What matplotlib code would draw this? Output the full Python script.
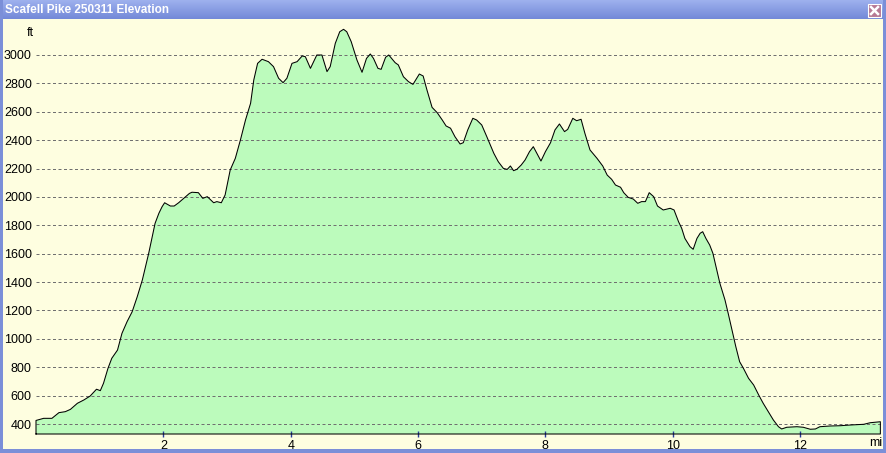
import matplotlib
matplotlib.use("Agg")
import numpy as np
import matplotlib.pyplot as plt
from matplotlib.patches import Rectangle
from matplotlib.lines import Line2D
from matplotlib.colors import LinearSegmentedColormap

title = "Scafell Pike 250311 Elevation"

dist_mi = [0.00, 0.12, 0.25, 0.36, 0.46, 0.54, 0.65, 0.75, 0.85, 0.95,
           1.01, 1.06, 1.13, 1.19, 1.28, 1.35, 1.43, 1.51, 1.59, 1.67,
           1.72, 1.77, 1.82, 1.87, 1.93, 1.98, 2.02, 2.11, 2.17, 2.24,
           2.32, 2.41, 2.45, 2.55, 2.62, 2.69, 2.79, 2.84, 2.91, 2.97,
           3.05, 3.13, 3.21, 3.29, 3.37, 3.42, 3.48, 3.55, 3.65, 3.73,
           3.81, 3.88, 3.94, 4.02, 4.10, 4.18, 4.23, 4.31, 4.41, 4.49,
           4.57, 4.62, 4.70, 4.77, 4.83, 4.88, 4.95, 5.04, 5.12, 5.19,
           5.25, 5.30, 5.37, 5.42, 5.49, 5.54, 5.64, 5.69, 5.77, 5.85,
           5.92, 5.97, 6.02, 6.08, 6.14, 6.22, 6.30, 6.38, 6.44, 6.51,
           6.58, 6.66, 6.71, 6.78, 6.86, 6.92, 7.00, 7.08, 7.19, 7.26,
           7.34, 7.40, 7.45, 7.50, 7.55, 7.62, 7.68, 7.75, 7.81, 7.88,
           7.93, 8.00, 8.08, 8.15, 8.22, 8.30, 8.35, 8.43, 8.49, 8.56,
           8.62, 8.70, 8.81, 8.90, 8.97, 9.04, 9.10, 9.18, 9.23, 9.30,
           9.38, 9.45, 9.51, 9.57, 9.63, 9.70, 9.76, 9.85, 9.96, 10.02,
           10.09, 10.14, 10.19, 10.27, 10.32, 10.38, 10.43, 10.47, 10.52, 10.58,
           10.63, 10.68, 10.74, 10.82, 10.87, 10.93, 10.99, 11.05, 11.11, 11.19,
           11.27, 11.35, 11.42, 11.50, 11.58, 11.66, 11.71, 11.79, 11.95, 12.05,
           12.16, 12.24, 12.31, 12.47, 12.63, 12.79, 13.00, 13.10, 13.26]

elev_ft = [425, 440, 440, 480, 487, 503, 546, 569, 597, 645,
           635, 687, 792, 863, 921, 1039, 1121, 1191, 1297, 1415,
           1508, 1603, 1708, 1814, 1885, 1931, 1959, 1936, 1936, 1959,
           1990, 2025, 2033, 2030, 1990, 2002, 1959, 1967, 1959, 2014,
           2190, 2272, 2401, 2542, 2660, 2824, 2941, 2970, 2953, 2918,
           2836, 2805, 2836, 2941, 2953, 2993, 2988, 2906, 3000, 3000,
           2883, 2918, 3082, 3164, 3181, 3164, 3094, 2965, 2878, 2976,
           3007, 2976, 2906, 2899, 2984, 3000, 2946, 2930, 2847, 2812,
           2793, 2829, 2866, 2852, 2753, 2631, 2594, 2542, 2500, 2484,
           2424, 2373, 2382, 2472, 2554, 2542, 2507, 2424, 2307, 2248,
           2201, 2194, 2218, 2185, 2194, 2225, 2260, 2319, 2354, 2296,
           2253, 2319, 2382, 2472, 2514, 2460, 2476, 2554, 2537, 2547,
           2448, 2331, 2272, 2218, 2154, 2124, 2084, 2068, 2030, 1997,
           1985, 1955, 1967, 1967, 2030, 2002, 1936, 1908, 1920, 1908,
           1826, 1779, 1708, 1650, 1631, 1708, 1744, 1755, 1708, 1661,
           1603, 1508, 1391, 1274, 1180, 1062, 945, 839, 792, 722,
           675, 604, 546, 487, 428, 381, 365, 377, 381, 377,
           363, 365, 381, 386, 388, 393, 398, 409, 416]

x_ticks = [2, 4, 6, 8, 10, 12]
y_ticks = [400, 600, 800, 1000, 1200, 1400, 1600, 1800, 2000,
           2200, 2400, 2600, 2800, 3000]

plt.rcParams['font.family'] = ['Liberation Sans', 'DejaVu Sans']

W, H = 886, 453
bg = "#fefee0"
frame_blue = "#7b8fd8"
y_min, y_max = 329.6, 3232.5
x_max = 13.27


def fx(px):
    return px / W


def fy(py):
    return 1 - py / H


fig = plt.figure(figsize=(W / 100, H / 100), dpi=100, facecolor=bg)

ax = fig.add_axes([fx(36), fy(434), fx(881) - fx(36), fy(22) - fy(434)])
ax.set_facecolor("none")
ax.set_xlim(0, x_max)
ax.set_ylim(y_min, y_max)

# closed profile polygon
px_poly = [dist_mi[0]] + dist_mi + [dist_mi[-1], dist_mi[0]]
py_poly = [y_min] + elev_ft + [y_min, y_min]
ax.fill(px_poly, py_poly, facecolor="#bcfbbc", edgecolor="none", zorder=1)
ax.plot(px_poly, py_poly, color="black", lw=0.75, zorder=3, clip_on=False)

for s in ax.spines.values():
    s.set_visible(False)

ax.set_xticks(x_ticks)
ax.set_xticklabels([str(t) for t in x_ticks])
ax.set_yticks(y_ticks)
ax.set_yticklabels([str(t) for t in y_ticks])
ax.tick_params(axis='x', direction='inout', length=4, width=1,
               color="#2a3a9a", pad=2, labelsize=9)
ax.tick_params(axis='y', length=0, pad=3, labelsize=9)
ax.yaxis.grid(True, color="#707070", linestyle=(0, (3, 2.5)), lw=0.72, zorder=2)
ax.xaxis.grid(False)
ax.set_axisbelow(False)

fig.text(fx(30), fy(33), "ft", ha="center", va="center", fontsize=9)
fig.text(fx(876), fy(443), "mi", ha="center", va="center", fontsize=9)

# window frame: title bar + borders
tb = fig.add_axes([0, fy(19), 1, 19 / H])
grad = np.linspace(0, 1, 50).reshape(-1, 1)
cmap = LinearSegmentedColormap.from_list("tb", ["#9eb1ee", "#7389d8"])
tb.imshow(grad, aspect="auto", cmap=cmap, extent=[0, 1, 0, 1])
tb.axis("off")
fig.text(fx(5), fy(10), title, color="white", fontweight="bold",
         fontsize=8.5, ha="left", va="center")

fig.add_artist(Rectangle((0, 0), fx(3), 1, transform=fig.transFigure,
                         facecolor=frame_blue, edgecolor="none"))
fig.add_artist(Rectangle((fx(883), 0), fx(3), 1, transform=fig.transFigure,
                         facecolor=frame_blue, edgecolor="none"))
fig.add_artist(Rectangle((0, 0), 1, 4 / H, transform=fig.transFigure,
                         facecolor=frame_blue, edgecolor="none"))

# close button
fig.add_artist(Rectangle((fx(868), fy(17)), fx(13), 13 / H,
                         transform=fig.transFigure, facecolor="#b67894",
                         edgecolor="white", lw=0.8))
fig.add_artist(Line2D([fx(871), fx(878)], [fy(7), fy(14)],
                      transform=fig.transFigure, color="white", lw=1.8))
fig.add_artist(Line2D([fx(871), fx(878)], [fy(14), fy(7)],
                      transform=fig.transFigure, color="white", lw=1.8))

fig.savefig("out.png", dpi=100, facecolor=bg)
